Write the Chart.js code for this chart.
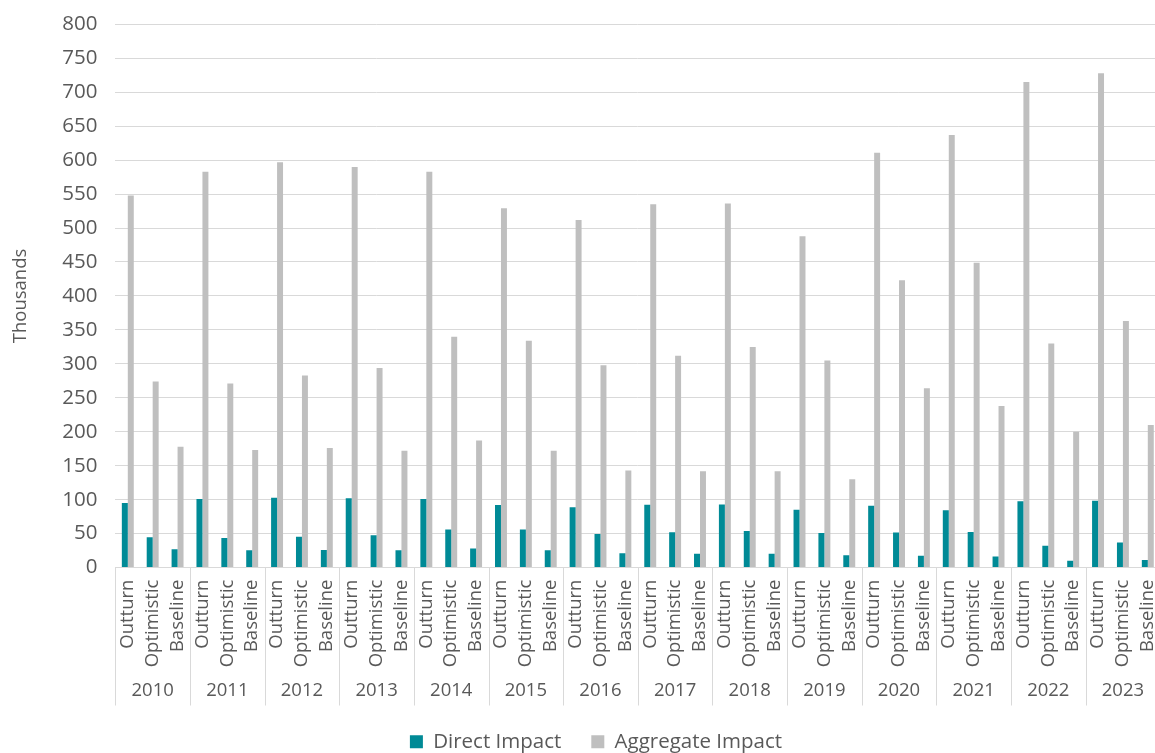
<!DOCTYPE html>
<html>
<head>
<meta charset="utf-8">
<title>Direct and Aggregate Impact</title>
<script src="https://cdn.jsdelivr.net/npm/chart.js@4/dist/chart.umd.min.js"></script>
<style>
  html, body { margin: 0; padding: 0; background: #fff; overflow: hidden; }
  #wrap { width: 1182px; height: 768px; margin-top: -6px; }
</style>
</head>
<body>
<div id="wrap"><canvas id="chart"></canvas></div>
<script>
const years = ['2010', '2011', '2012', '2013', '2014', '2015', '2016',
               '2017', '2018', '2019', '2020', '2021', '2022', '2023'];
const scenarios = ['Outturn', 'Optimistic', 'Baseline'];

// thousands, one row per year: outturn, optimistic, baseline
const directImpact = [
    95, 44.5, 27,
    101, 43.5, 25.5,
    103, 45.5, 26,
    102, 47.5, 25.5,
    101, 56, 28,
    92, 56, 25.5,
    89, 49.5, 21,
    92.5, 52, 20.5,
    93, 54, 20.5,
    85, 51, 18,
    91, 51.5, 17.5,
    84.5, 52.5, 16.5,
    97.5, 32, 10,
    98.5, 37, 11
];
const aggregateImpact = [
    548, 274, 178,
    583, 271, 173,
    597, 283, 176,
    590, 294, 172,
    583, 340, 187,
    529, 334, 172,
    512, 298, 143,
    535, 312, 142,
    536, 325, 142,
    488, 305, 130,
    611, 423, 264,
    637, 449, 238,
    715, 330, 200,
    728, 363, 210
];

const yTicks = { min: 0, max: 800, step: 50 };

const labels = years.flatMap(y => scenarios);
const textColor = '#595959';
const lineColor = '#d9d9d9';
const fontFamily = '"Open Sans", "Noto Sans", sans-serif';
const fontSize = 18.5;

// vertical separators between year groups, spanning both label rows
const groupLines = {
    id: 'groupLines',
    afterDraw(chart) {
        const x = chart.scales.x;
        const x2 = chart.scales.x2;
        const half = (x.getPixelForValue(1) - x.getPixelForValue(0)) / 2;
        const ctx = chart.ctx;
        ctx.save();
        ctx.strokeStyle = lineColor;
        ctx.lineWidth = 1;
        for (let i = 0; i <= labels.length; i += scenarios.length) {
            const px = Math.round(x.getPixelForValue(i) - half) + 0.5;
            ctx.beginPath();
            ctx.moveTo(px, chart.chartArea.bottom);
            ctx.lineTo(px, x2.bottom + 4);
            ctx.stroke();
        }
        ctx.restore();
    }
};

Chart.defaults.font.family = fontFamily;
Chart.defaults.font.size = fontSize;
Chart.defaults.color = textColor;

let ctx = document.getElementById('chart').getContext('2d');
let chart = new Chart(ctx, {
    type: 'bar',
    data: {
        labels: labels,
        datasets: [
            {
                label: 'Direct Impact',
                backgroundColor: '#008a96',
                data: directImpact,
            },
            {
                label: 'Aggregate Impact',
                backgroundColor: '#bfbfbf',
                data: aggregateImpact,
            }
        ]
    },
    options: {
        responsive: true,
        maintainAspectRatio: false,
        animation: false,
        categoryPercentage: 0.48,
        barPercentage: 1,
        layout: { padding: { top: 2, left: 10, right: 0, bottom: 0 } },
        plugins: {
            tooltip: { enabled: false },
            legend: {
                position: 'bottom',
                labels: {
                    boxWidth: 13,
                    boxHeight: 13,
                    padding: 30,
                    color: textColor,
                    font: { size: 20.5 }
                }
            }
        },
        scales: {
            x: {
                grid: { display: false, drawTicks: false },
                border: { display: true, color: lineColor, width: 1 },
                ticks: {
                    minRotation: 90,
                    maxRotation: 90,
                    autoSkip: false,
                    padding: 12
                }
            },
            x2: {
                type: 'category',
                labels: years,
                position: 'bottom',
                offset: true,
                grid: { display: false, drawTicks: false },
                border: { display: false },
                ticks: { padding: 0, autoSkip: false, maxRotation: 0 }
            },
            y: {
                min: yTicks.min,
                max: yTicks.max,
                grid: { color: lineColor, lineWidth: 1, drawTicks: false },
                border: { display: false },
                ticks: { stepSize: yTicks.step, padding: 18, font: { size: 20.5 } },
                title: {
                    display: true,
                    text: 'Thousands',
                    color: textColor,
                    font: { size: 18.5 },
                    padding: { top: 0, bottom: 12 }
                }
            }
        }
    },
    plugins: [groupLines]
});
</script>
</body>
</html>
